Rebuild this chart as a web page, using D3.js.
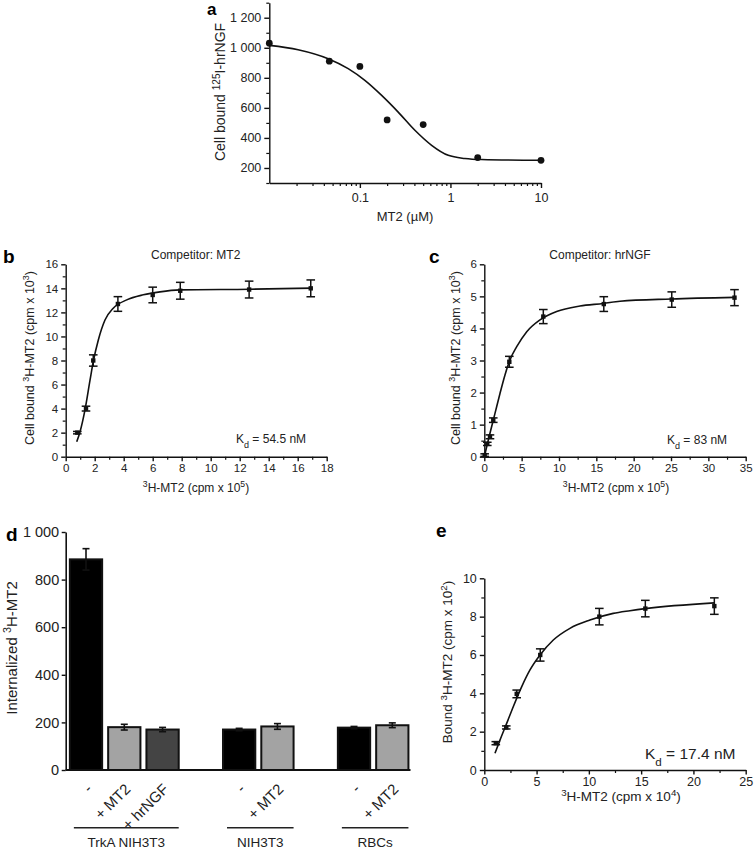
<!DOCTYPE html>
<html><head><meta charset="utf-8">
<script src="https://cdn.jsdelivr.net/npm/d3@7"></script>
<style>
body{margin:0;background:#fff}
svg text{font-family:"Liberation Sans",Arial,Helvetica,sans-serif;fill:#222}
</style>
</head><body>
<svg id="fig" width="754" height="848"></svg>
<script>
// ---------- DATA ----------
// Panel a: competition of 125I-hrNGF by MT2
const aDose = [0.01, 0.046, 0.1, 0.2, 0.5, 2, 10];
const aBound = [1030, 911, 876, 520, 489, 269, 251];
const aFitDose = [0.01, 0.0208, 0.0447, 0.0743, 0.1135, 0.174, 0.265, 0.405, 0.62, 0.946, 1.445, 2.21, 10];
const aFitBound = [1016, 987, 927, 861, 783, 683, 572, 451, 351, 284, 263, 256, 251];
const aYTicks = [200, 400, 600, 800, 1000, 1200];
const aXTicks = [0.1, 1, 10];

// Panel b: competitor MT2
const bX = [0.8, 1.4, 1.9, 3.6, 6.0, 7.9, 12.65, 16.9];
const bY = [2.0, 4.0, 8.0, 12.7, 13.45, 13.8, 13.9, 14.0];
const bErr = [0.1, 0.2, 0.47, 0.61, 0.65, 0.7, 0.7, 0.7];
const bFitX = [0.76, 0.99, 1.33, 1.68, 1.90, 2.25, 2.71, 3.28, 4.21, 5.35, 6.50, 7.88, 12.7, 17];
const bFitY = [1.25, 2.08, 3.89, 6.38, 7.90, 9.71, 11.37, 12.35, 13.04, 13.46, 13.71, 13.87, 13.93, 14.02];

// Panel c: competitor hrNGF
const cX = [0.05, 0.4, 0.76, 1.2, 3.35, 7.9, 16.0, 25.1, 33.5];
const cY = [0.05, 0.4, 0.62, 1.14, 2.96, 4.37, 4.76, 4.9, 4.96];
const cErr = [0.04, 0.05, 0.06, 0.07, 0.17, 0.22, 0.23, 0.24, 0.25];
const cFitX = [0, 0.32, 0.76, 1.43, 2.10, 2.77, 3.44, 4.34, 5.68, 7.46, 9.69, 12.81, 15.93, 18.17, 25, 33.5];
const cFitY = [0, 0.31, 0.73, 1.35, 1.97, 2.55, 3.02, 3.43, 3.90, 4.27, 4.53, 4.70, 4.78, 4.85, 4.92, 4.97];

// Panel d: internalization bars
const dGroups = ["TrkA NIH3T3", "NIH3T3", "RBCs"];
const dTreatments = ["-", "+ MT2", "+ hrNGF", "-", "+ MT2", "-", "+ MT2"];
const dGroupIndex = [0, 0, 0, 1, 1, 2, 2];
const dValues = [885, 180, 170, 170, 183, 178, 188];
const dErrors = [45, 12, 9, 5, 12, 5, 10];
const dYTicks = [0, 200, 400, 600, 800, 1000];

// Panel e: saturation binding
const eX = [1.1, 2.1, 3.1, 5.35, 11.0, 15.4, 22.0];
const eY = [1.4, 2.22, 3.97, 6.0, 8.0, 8.42, 8.55];
const eErr = [0.08, 0.08, 0.2, 0.32, 0.43, 0.43, 0.43];
const eFitX = [1.02, 1.50, 2.14, 2.77, 3.58, 4.37, 5.33, 6.60, 8.19, 10.10, 12.33, 13.93, 15.4, 22];
const eFitY = [0.87, 1.56, 2.43, 3.30, 4.35, 5.22, 6.00, 6.78, 7.39, 7.82, 8.17, 8.31, 8.42, 8.72];

// ---------- HELPERS ----------
const svg = d3.select("#fig");
const FONT = '"Liberation Sans",Arial,Helvetica,sans-serif';
const INK = "#111";
const spaceFmt = v => d3.format(",")(v).replace(/,/g, " ");

function styleAxis(g, fs) {
  g.attr("font-family", FONT).attr("font-size", fs);
  g.selectAll("path,line").attr("stroke", INK).attr("stroke-width", 1.4);
  g.selectAll("text").attr("fill", "#222");
}
function minorAxis(g, axis) {
  g.call(axis);
  g.select(".domain").remove();
  g.selectAll("text").remove();
  g.selectAll("line").attr("stroke", INK).attr("stroke-width", 1.2);
}
// parts: [text, "sup"|"sub"|null]
function rich(sel, parts, fs) {
  sel.attr("font-size", fs);
  parts.forEach(([t, kind]) => {
    const ts = sel.append("tspan").text(t);
    if (kind === "sup") ts.attr("baseline-shift", "super").attr("font-size", fs * 0.72);
    if (kind === "sub") ts.attr("baseline-shift", "sub").attr("font-size", fs * 0.75);
  });
  return sel;
}
function panelLabel(x, y, t, fs = 19) {
  svg.append("text").attr("x", x).attr("y", y).attr("font-size", fs)
    .attr("font-weight", "bold").style("fill", "#000").text(t);
}
function rotTitle(x, y, parts, fs) {
  const t = svg.append("text").attr("transform", `translate(${x},${y}) rotate(-90)`)
    .attr("text-anchor", "middle");
  rich(t, parts, fs);
}
function hTitle(x, y, parts, fs, anchor = "middle") {
  const t = svg.append("text").attr("x", x).attr("y", y).attr("text-anchor", anchor);
  rich(t, parts, fs);
}
function drawErrorPoints(g, xs, ys, errs, x, y, cap) {
  const idx = d3.range(xs.length);
  const eb = g.append("g").attr("stroke", INK).attr("stroke-width", 1.5);
  idx.forEach(i => {
    const cx = x(xs[i]), y1 = y(ys[i] + errs[i]), y0 = y(ys[i] - errs[i]);
    eb.append("line").attr("x1", cx).attr("x2", cx).attr("y1", y0).attr("y2", y1);
    eb.append("line").attr("x1", cx - cap).attr("x2", cx + cap).attr("y1", y1).attr("y2", y1);
    eb.append("line").attr("x1", cx - cap).attr("x2", cx + cap).attr("y1", y0).attr("y2", y0);
  });
  g.append("g").selectAll("rect").data(idx).join("rect")
    .attr("x", i => x(xs[i]) - 2.2).attr("y", i => y(ys[i]) - 2.2)
    .attr("width", 4.4).attr("height", 4.4).attr("fill", INK);
}
function drawCurve(g, xs, ys, x, y) {
  const line = d3.line().x(i => x(xs[i])).y(i => y(ys[i])).curve(d3.curveMonotoneX);
  g.append("path").attr("d", line(d3.range(xs.length)))
    .attr("fill", "none").attr("stroke", INK).attr("stroke-width", 1.6);
}
function linAxes(x, y, xMaj, xMin, yMaj, yMin, fs) {
  const [x0] = x.range(); const [y0] = y.range();
  const gx = svg.append("g").attr("transform", `translate(0,${y0})`);
  minorAxis(gx.append("g"), d3.axisBottom(x).tickValues(xMin).tickSize(3).tickSizeOuter(0));
  const gxm = gx.append("g").call(d3.axisBottom(x).tickValues(xMaj).tickSize(4.5).tickSizeOuter(0).tickPadding(3).tickFormat(d3.format("d")));
  styleAxis(gxm, fs);
  const gy = svg.append("g").attr("transform", `translate(${x0},0)`);
  minorAxis(gy.append("g"), d3.axisLeft(y).tickValues(yMin).tickSize(3).tickSizeOuter(0));
  const gym = gy.append("g").call(d3.axisLeft(y).tickValues(yMaj).tickSize(4.5).tickSizeOuter(0).tickPadding(3).tickFormat(d3.format("d")));
  styleAxis(gym, fs);
}
const rng = (a, b, s) => d3.range(a, b + s / 2, s);

// ---------- PANEL A ----------
{
  const x = d3.scaleLog().domain([0.01, 10]).range([269.3, 541]);
  const y = d3.scaleLinear().domain([100, 1300]).range([183, 2.7]);
  const g = svg.append("g");
  const minorX = [];
  [0.01, 0.1, 1].forEach(dec => { for (let k = 2; k <= 9; k++) minorX.push(dec * k); });
  const gx = svg.append("g").attr("transform", "translate(0,183)");
  minorAxis(gx.append("g"), d3.axisBottom(x).tickValues(minorX).tickSize(3).tickSizeOuter(0));
  const gxm = gx.append("g").call(d3.axisBottom(x).tickValues(aXTicks).tickSize(5).tickSizeOuter(0).tickPadding(5).tickFormat(d => d < 1 ? String(d) : d3.format("d")(d)));
  styleAxis(gxm, 12.5);
  const gy = svg.append("g").attr("transform", "translate(269.3,0)");
  minorAxis(gy.append("g"), d3.axisLeft(y).tickValues(rng(100, 1300, 200)).tickSize(3).tickSizeOuter(0));
  const gym = gy.append("g").call(d3.axisLeft(y).tickValues(aYTicks).tickSize(5).tickSizeOuter(0).tickPadding(3).tickFormat(spaceFmt));
  styleAxis(gym, 12.5);
  drawCurve(g, aFitDose, aFitBound, x, y);
  g.append("g").selectAll("circle").data(d3.range(aDose.length)).join("circle")
    .attr("cx", i => x(aDose[i])).attr("cy", i => y(aBound[i])).attr("r", 3.4).attr("fill", INK);
  panelLabel(207, 15, "a", 17);
  rotTitle(225, 92, [["Cell bound ", null], ["125", "sup"], ["I-hrNGF", null]], 14);
  hTitle(405, 221, [["MT2 (µM)", null]], 13);
}

// ---------- PANEL B ----------
{
  const x = d3.scaleLinear().domain([0, 18]).range([65.7, 326.7]);
  const y = d3.scaleLinear().domain([0, 16]).range([456.7, 264.3]);
  linAxes(x, y, rng(0, 18, 2), rng(1, 17, 2), rng(0, 16, 2), rng(1, 15, 2), 11.5);
  const g = svg.append("g");
  drawCurve(g, bFitX, bFitY, x, y);
  drawErrorPoints(g, bX, bY, bErr, x, y, 4.3);
  panelLabel(3, 263, "b");
  hTitle(195.7, 259, [["Competitor: MT2", null]], 12);
  rotTitle(33.5, 358, [["Cell bound ", null], ["3", "sup"], ["H-MT2 (cpm x 10", null], ["3", "sup"], [")", null]], 12.5);
  hTitle(196, 492, [["3", "sup"], ["H-MT2 (cpm x 10", null], ["5", "sup"], [")", null]], 12);
  hTitle(236, 443, [["K", null], ["d", "sub"], [" = 54.5 nM", null]], 12, "start");
}

// ---------- PANEL C ----------
{
  const x = d3.scaleLinear().domain([0, 35]).range([484.3, 745.7]);
  const y = d3.scaleLinear().domain([0, 6]).range([456.7, 264.3]);
  linAxes(x, y, rng(0, 35, 5), rng(2.5, 32.5, 5), rng(0, 6, 1), rng(0.5, 5.5, 1), 11.5);
  const g = svg.append("g");
  drawCurve(g, cFitX, cFitY, x, y);
  drawErrorPoints(g, cX, cY, cErr, x, y, 4.3);
  panelLabel(429, 263, "c");
  hTitle(600, 259, [["Competitor: hrNGF", null]], 12);
  rotTitle(460, 358, [["Cell bound ", null], ["3", "sup"], ["H-MT2 (cpm x 10", null], ["3", "sup"], [")", null]], 12.5);
  hTitle(616, 492, [["3", "sup"], ["H-MT2 (cpm x 10", null], ["5", "sup"], [")", null]], 12);
  hTitle(667, 444, [["K", null], ["d", "sub"], [" = 83 nM", null]], 12, "start");
}

// ---------- PANEL D ----------
{
  const slots = [0, 1, 2, 4, 5, 7, 8];
  const x = d3.scaleBand().domain(d3.range(9)).range([66.8, 411.5]).paddingInner(0.157).paddingOuter(0.08);
  const y = d3.scaleLinear().domain([0, 1000]).range([770, 532]);
  const fills = { "-": "#000", "+ MT2": "#a3a3a3", "+ hrNGF": "#444" };
  const g = svg.append("g");
  const idx = d3.range(dValues.length);
  g.selectAll("rect").data(idx).join("rect")
    .attr("x", i => x(slots[i])).attr("width", x.bandwidth())
    .attr("y", i => y(dValues[i])).attr("height", i => y(0) - y(dValues[i]))
    .attr("fill", i => fills[dTreatments[i]]).attr("stroke", INK).attr("stroke-width", 2);
  const eb = g.append("g").attr("stroke", INK).attr("stroke-width", 1.6);
  idx.forEach(i => {
    const cx = x(slots[i]) + x.bandwidth() / 2;
    const y1 = y(dValues[i] + dErrors[i]), y0 = y(dValues[i] - dErrors[i]);
    eb.append("line").attr("x1", cx).attr("x2", cx).attr("y1", y0).attr("y2", y1);
    eb.append("line").attr("x1", cx - 3.5).attr("x2", cx + 3.5).attr("y1", y1).attr("y2", y1);
    eb.append("line").attr("x1", cx - 3.5).attr("x2", cx + 3.5).attr("y1", y0).attr("y2", y0);
  });
  const gy = svg.append("g").attr("transform", "translate(65.7,0)")
    .call(d3.axisLeft(y).tickValues(dYTicks).tickSize(4).tickSizeOuter(0).tickPadding(2.5).tickFormat(spaceFmt));
  styleAxis(gy, 14.5);
  gy.select(".domain").attr("stroke-width", 1.6);
  svg.append("line").attr("x1", 65.7).attr("x2", 410.5).attr("y1", 770).attr("y2", 770)
    .attr("stroke", INK).attr("stroke-width", 1.8);
  // rotated treatment labels
  idx.forEach(i => {
    const cx = x(slots[i]) + x.bandwidth() / 2;
    svg.append("text").attr("transform", `translate(${cx + 7},${790}) rotate(-45)`)
      .attr("text-anchor", "end").attr("font-size", 15).text(dTreatments[i]);
  });
  // group underlines and names
  dGroups.forEach((name, gi) => {
    const members = idx.filter(i => dGroupIndex[i] === gi);
    const xa = x(slots[members[0]]) + 4, xb = x(slots[members[members.length - 1]]) + x.bandwidth();
    svg.append("line").attr("x1", xa).attr("x2", xb).attr("y1", 827.7).attr("y2", 827.7)
      .attr("stroke", "#222").attr("stroke-width", 1.4);
    svg.append("text").attr("x", (xa + xb) / 2).attr("y", 846.5).attr("text-anchor", "middle")
      .attr("font-size", 13.5).text(name);
  });
  panelLabel(6, 541, "d");
  rotTitle(17, 648, [["Internalized ", null], ["3", "sup"], ["H-MT2", null]], 15);
}

// ---------- PANEL E ----------
{
  const x = d3.scaleLinear().domain([0, 25]).range([484.3, 745.7]);
  const y = d3.scaleLinear().domain([0, 10]).range([770, 578.3]);
  linAxes(x, y, rng(0, 25, 5), rng(2.5, 22.5, 5), rng(0, 10, 2), rng(1, 9, 2), 12.5);
  const g = svg.append("g");
  drawCurve(g, eFitX, eFitY, x, y);
  drawErrorPoints(g, eX, eY, eErr, x, y, 4.3);
  panelLabel(436, 537, "e");
  rotTitle(452, 662, [["Bound ", null], ["3", "sup"], ["H-MT2 (cpm x 10", null], ["2", "sup"], [")", null]], 13.5);
  hTitle(621, 801, [["3", "sup"], ["H-MT2 (cpm x 10", null], ["4", "sup"], [")", null]], 13.5);
  hTitle(645, 758.5, [["K", null], ["d", "sub"], [" = 17.4 nM", null]], 15.5, "start");
}
</script>
</body></html>
